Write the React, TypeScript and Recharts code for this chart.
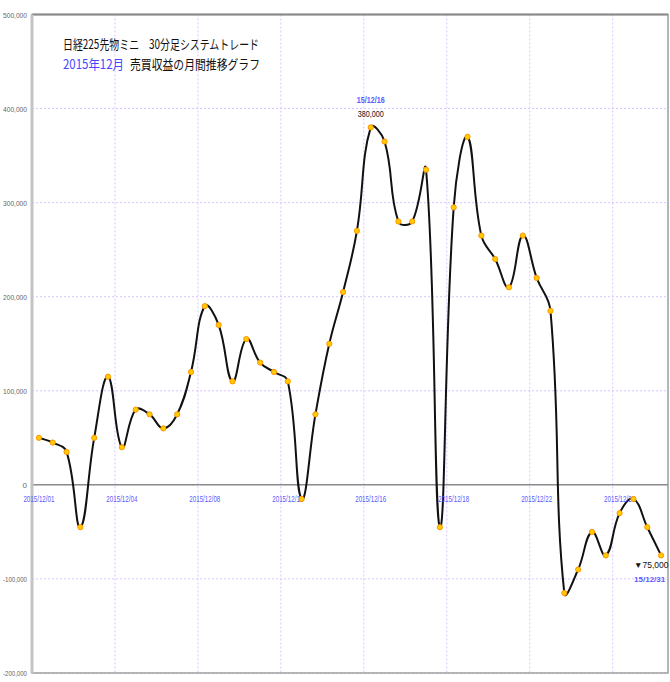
import React from "react";
import {
  LineChart,
  Line,
  XAxis,
  YAxis,
  CartesianGrid,
  ReferenceLine,
  ReferenceDot,
  ReferenceArea,
} from "recharts";

// 30分足 損益推移 (円), 2015年12月
const PROFIT = [
  50000, 45000, 35000, -45000, 50000, 115000, 40000, 80000, 75000, 60000,
  75000, 120000, 190000, 170000, 110000, 155000, 130000, 120000, 110000, -15000,
  75000, 150000, 205000, 270000, 380000, 365000, 280000, 280000, 335000, -45000,
  295000, 370000, 265000, 240000, 210000, 265000, 220000, 185000, -115000, -90000,
  -50000, -75000, -30000, -15000, -45000, -75000,
];

const TICK_INDEX = [0, 6, 12, 18, 24, 30, 36, 42];
const TICK_LABELS = [
  "2015/12/01",
  "2015/12/04",
  "2015/12/08",
  "2015/12/12",
  "2015/12/16",
  "2015/12/18",
  "2015/12/22",
  "2015/12/28",
];
const Y_TICKS = [-200000, -100000, 0, 100000, 200000, 300000, 400000, 500000];

const PEAK_INDEX = 24;
const PEAK_DATE = "15/12/16";
const PEAK_TEXT = "380,000";
const LAST_INDEX = PROFIT.length - 1;
const LAST_DATE = "15/12/31";
const LAST_TEXT = "▼75,000";

const data = PROFIT.map((v, i) => ({ i, v }));

const BLUE = "#5a5aff";
const GRID = "#d9c4ff";

// excel風のなめらか曲線 (区間の長さで腕を調整)
const smoothCurve = (context: any) => {
  let pts: number[][] = [];
  const dist = (a: number[], b: number[]) => Math.hypot(a[0] - b[0], a[1] - b[1]);
  return {
    areaStart() {},
    areaEnd() {},
    lineStart() {
      pts = [];
    },
    point(x: number, y: number) {
      pts.push([+x, +y]);
    },
    lineEnd() {
      if (!pts.length) return;
      const t = 0.42;
      // 各点の接線ベクトル
      const arms = pts.map((p, k) => {
        const a = pts[k - 1] || p;
        const b = pts[k + 1] || p;
        const dIn = dist(a, p);
        const dOut = dist(p, b);
        const sum = dIn + dOut || 1;
        const dx = b[0] - a[0];
        const dy = b[1] - a[1];
        return {
          inX: (dx * t * dIn) / sum,
          inY: (dy * t * dIn) / sum,
          outX: (dx * t * dOut) / sum,
          outY: (dy * t * dOut) / sum,
        };
      });
      context.moveTo(pts[0][0], pts[0][1]);
      for (let k = 0; k < pts.length - 1; k++) {
        const p1 = pts[k];
        const p2 = pts[k + 1];
        context.bezierCurveTo(
          p1[0] + arms[k].outX,
          p1[1] + arms[k].outY,
          p2[0] - arms[k + 1].inX,
          p2[1] - arms[k + 1].inY,
          p2[0],
          p2[1]
        );
      }
    },
  };
};

const fmt = (n: number) => String(n).replace(/\B(?=(\d{3})+(?!\d))/g, ",");

const YTick = (p: any) => {
  const s = fmt(p.payload.value);
  return (
    <text
      x={p.x}
      y={p.y}
      dy={3}
      textAnchor="end"
      fontSize={8}
      fill="#666"
      fontFamily="Liberation Sans"
      textLength={s.length > 1 ? 24 : undefined}
      lengthAdjust="spacingAndGlyphs"
    >
      {s}
    </text>
  );
};

const dateLabel = (label: string) => (p: any) => (
  <text
    x={p.cx}
    y={p.cy + 17}
    textAnchor="middle"
    fontSize={9}
    fill={BLUE}
    fontFamily="Liberation Sans"
    textLength={31}
    lengthAdjust="spacingAndGlyphs"
  >
    {label}
  </text>
);

const peakLabel = (p: any) => (
  <g fontFamily="Liberation Sans" fontSize={9} textAnchor="middle">
    <text x={p.cx} y={p.cy - 24} fill={BLUE} fontWeight="bold" textLength={28} lengthAdjust="spacingAndGlyphs">
      {PEAK_DATE}
    </text>
    <text x={p.cx} y={p.cy - 10} fill="#111" textLength={26} lengthAdjust="spacingAndGlyphs">
      {PEAK_TEXT}
    </text>
  </g>
);

const lastLabel = (p: any) => (
  <g fontFamily="Liberation Sans">
    <text x={p.cx - 27} y={p.cy + 13} fill="#111" fontSize={8.5}>
      {LAST_TEXT}
    </text>
    <text x={p.cx - 27} y={p.cy + 27} fill={BLUE} fontWeight="bold" fontSize={8}>
      {LAST_DATE}
    </text>
  </g>
);

export default function App() {
  return (
    <div style={{ position: "absolute", left: 0, top: 0, width: 670, height: 682, background: "#fff" }}>
      <LineChart
        width={670}
        height={682}
        data={data}
        margin={{ top: 14.5, right: 2, bottom: 9, left: 0 }}
      >
        <CartesianGrid stroke={GRID} strokeDasharray="2 2" />
        <XAxis
          dataKey="i"
          type="number"
          domain={[-0.5, PROFIT.length - 0.5]}
          ticks={TICK_INDEX.map((t) => t - 0.5)}
          hide
        />
        <YAxis
          type="number"
          width={32}
          domain={[-200000, 500000]}
          ticks={Y_TICKS}
          tick={<YTick />}
          tickSize={3}
          tickMargin={2}
          tickLine={false}
          axisLine={{ stroke: "#c4c4c4", strokeWidth: 3 }}
          interval={0}
        />
        <ReferenceArea
          x1={-0.5}
          x2={PROFIT.length - 0.5}
          y1={-200000}
          y2={500000}
          fill="none"
          stroke="#a0a0a0"
          strokeWidth={1.5}
        />
        <ReferenceLine y={500000} stroke="#8a8a8a" strokeWidth={2} />
        <ReferenceLine y={0} stroke="#8c8c8c" strokeWidth={1.5} />
        {TICK_INDEX.map((t, k) => (
          <ReferenceDot key={t} x={t} y={0} r={0} shape={dateLabel(TICK_LABELS[k])} />
        ))}
        <Line
          dataKey="v"
          type={smoothCurve as any}
          stroke="#111"
          strokeWidth={2}
          dot={{ r: 2.6, fill: "#ffcc00", stroke: "#ff9400", strokeWidth: 1 }}
          isAnimationActive={false}
        />
        <ReferenceDot x={PEAK_INDEX} y={PROFIT[PEAK_INDEX]} r={0} shape={peakLabel} />
        <ReferenceDot x={LAST_INDEX} y={PROFIT[LAST_INDEX]} r={0} shape={lastLabel} />
      </LineChart>
      <svg
        width={670}
        height={90}
        style={{ position: "absolute", left: 0, top: 0, pointerEvents: "none" }}
        fontFamily="Noto Sans CJK JP"
        fontSize={13}
      >
        <text x={63} y={49} fill="#111" textLength={196} lengthAdjust="spacingAndGlyphs">
          日経225先物ミニ　30分足システムトレード
        </text>
        <text x={63} y={69} fill="#4646ff" textLength={61} lengthAdjust="spacingAndGlyphs">
          2015年12月
        </text>
        <text x={130} y={69} fill="#111" textLength={130} lengthAdjust="spacingAndGlyphs">
          売買収益の月間推移グラフ
        </text>
      </svg>
    </div>
  );
}
